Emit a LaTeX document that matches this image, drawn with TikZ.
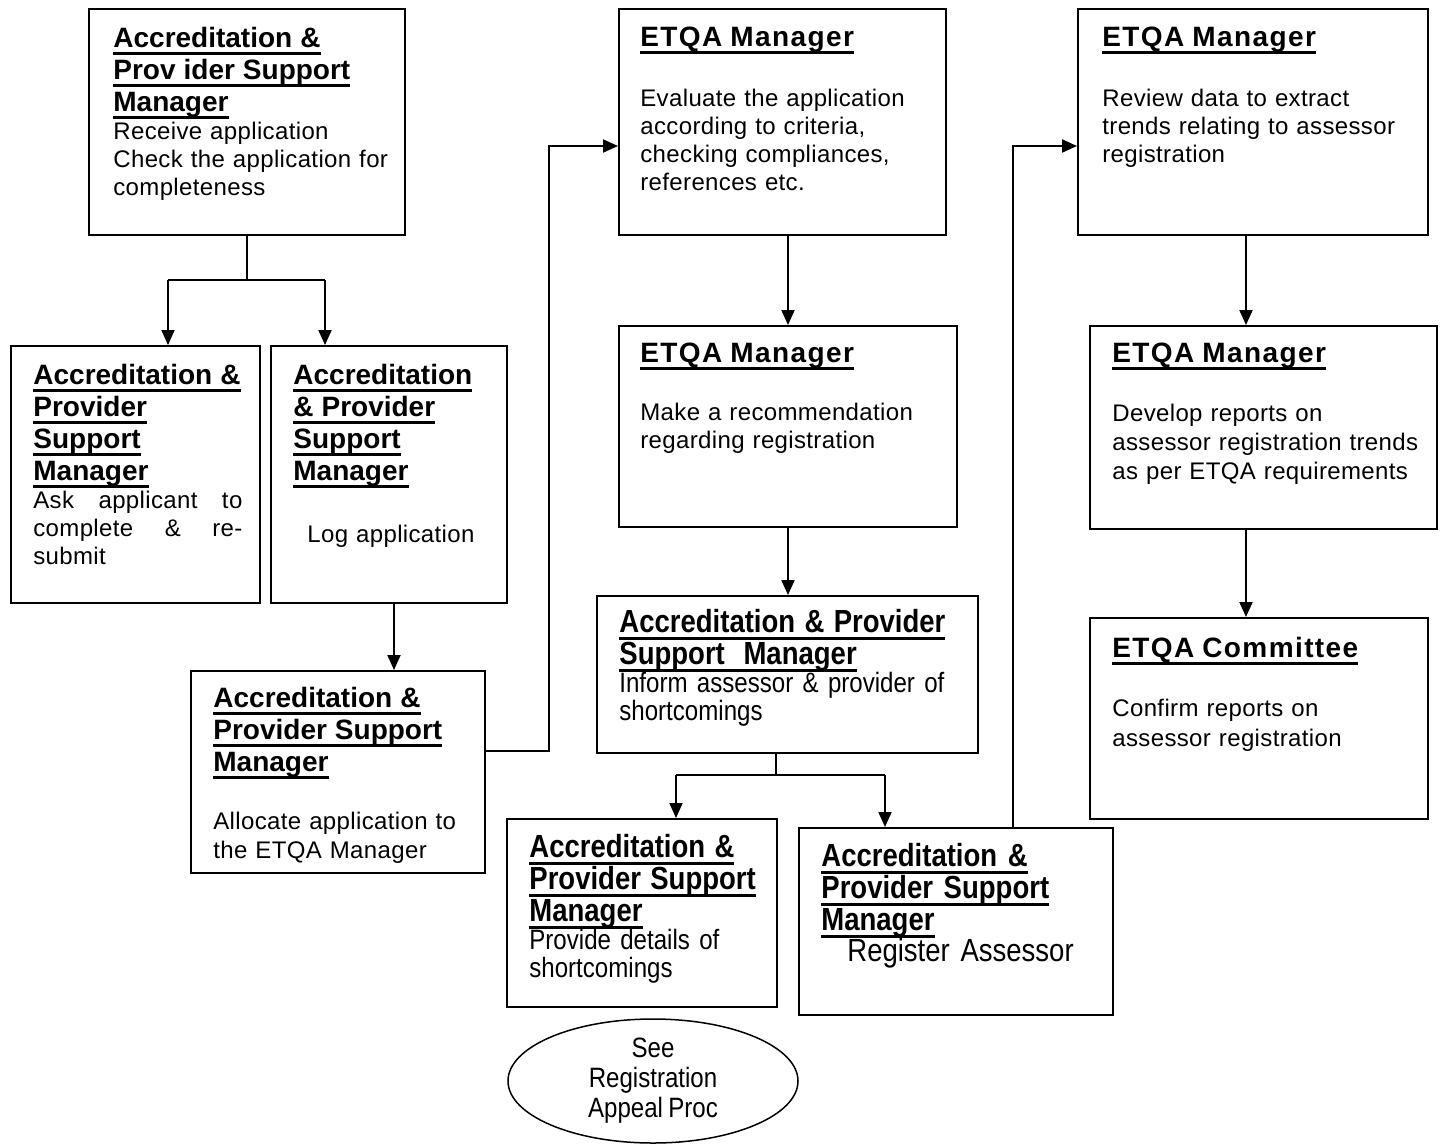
\documentclass[tikz,border=0pt]{standalone}
\usepackage{fontspec}
\setmainfont{Liberation Sans}[LetterSpace=1.5]
\newfontfamily\plainfont{Liberation Sans}
\newfontfamily\spacedfont[LetterSpace=5]{Liberation Sans}
\newfontfamily\narrowfont[FakeStretch=0.86,WordSpace=0.8]{Liberation Sans}
\usetikzlibrary{arrows.meta,shapes.geometric}

\newcommand{\hu}[1]{\leavevmode\setbox0\hbox{#1}\rlap{\rule[-3.6pt]{\wd0}{1.5pt}}\box0}
\newcommand{\hdf}{\plainfont\bfseries\fontsize{14}{16}\selectfont}
\newcommand{\edf}{\spacedfont\bfseries\fontsize{14}{16}\selectfont}
\newcommand{\nhf}{\narrowfont\bfseries\fontsize{16}{16}\selectfont}
\newcommand{\nbf}{\narrowfont\fontsize{14}{14}\selectfont}

\tikzset{
  frame/.style={draw, line width=1pt, anchor=north west, inner sep=0pt},
  txt/.style={anchor=north west, inner sep=0pt, align=left, font=\fontsize{12}{14}\selectfont},
  flow/.style={line width=1pt, -{Triangle[length=7.5pt,width=6.5pt]}},
  link/.style={line width=1pt}
}

\begin{document}
\begin{tikzpicture}[x=0.5pt,y=-0.5pt]
  \useasboundingbox (0,0) rectangle (1442,1147);
  \coordinate (s1) at (168,280);
  \coordinate (s2) at (325,280);
  \coordinate (c1) at (549,146);
  \coordinate (j2) at (776,775);
  \coordinate (s3) at (676,775);
  \coordinate (s4) at (885,775);
  \coordinate (c2) at (1013,146);
  \coordinate (c3) at (1246,0);
% left column
\node[frame, minimum width=158pt, minimum height=113pt] (recv) at (88,8) {};
\node[txt, text width=140pt] (recv-t) at (113,27)
  {{\hdf\hu{Accreditation \&}\\\hu{Prov ider Support}\\\hu{Manager}\par}
   Receive application\\Check the application for\\completeness};
\node[frame, minimum width=124.5pt, minimum height=128.5pt] (ask) at (10,345) {};
\node[txt, text width=104.5pt] (ask-t) at (33,364)
  {{\hdf\hu{Accreditation \&}\\\hu{Provider}\\\hu{Support}\\\hu{Manager}\par}
   Ask\hfill applicant\hfill to\\complete\hfill\&\hfill re-\\submit};
\node[frame, minimum width=118pt, minimum height=128.5pt] (log) at (270,345) {};
\node[txt, text width=100pt] (log-t) at (293,364)
  {{\hdf\hu{Accreditation}\\\hu{\& Provider}\\\hu{Support}\\\hu{Manager}\par}
   \vspace{17pt}\hspace*{7pt}Log application};
\node[frame, minimum width=147pt, minimum height=101pt] (alloc) at (190,670) {};
\node[txt, text width=130pt, font=\fontsize{12}{14.5}\selectfont] (alloc-t) at (213,687)
  {{\hdf\hu{Accreditation \&}\\\hu{Provider Support}\\\hu{Manager}\par}
   \vspace{14.5pt}Allocate application to\\the ETQA Manager};
% middle column
\node[frame, minimum width=163.5pt, minimum height=113pt] (eval) at (618,8) {};
\node[txt, text width=147pt] (eval-t) at (640,27)
  {{\edf\hu{ETQA Manager}\par}
   \vspace{16pt}Evaluate the application\\according to criteria,\\checking compliances,\\references etc.};
\node[frame, minimum width=169pt, minimum height=100.5pt] (recom) at (618,325) {};
\node[txt, text width=153pt] (recom-t) at (640,343)
  {{\edf\hu{ETQA Manager}\par}
   \vspace{15pt}Make a recommendation\\regarding registration};
\node[frame, minimum width=190.5pt, minimum height=78.5pt] (inform) at (596,595) {};
\node[txt, text width=174pt, font=\nbf] (inform-t) at (619,609)
  {{\nhf\hu{Accreditation \& Provider}\\\hu{Support\ \ Manager}\par}
   Inform assessor \& provider of\\shortcomings};
\node[frame, minimum width=135pt, minimum height=94pt] (details) at (506,818) {};
\node[txt, text width=119pt, font=\nbf] (details-t) at (529,834)
  {{\nhf\hu{Accreditation \&}\\\hu{Provider Support}\\\hu{Manager}\par}
   Provide details of\\shortcomings};
\node[frame, minimum width=157pt, minimum height=93.5pt] (regist) at (798,827) {};
\node[txt, text width=140pt, font=\narrowfont\fontsize{16}{15.5}\selectfont] (regist-t) at (821,843)
  {{\nhf\hu{Accreditation \&}\\\hu{Provider Support}\\\hu{Manager}\par}
   \hspace*{13pt}Register Assessor};
\node[draw, line width=0.75pt, ellipse, minimum width=145pt, minimum height=62pt,
  inner sep=0pt, align=center, font=\narrowfont\fontsize{14}{15}\selectfont] (appeal) at (653,1081)
  {See\\Registration\\Appeal Proc};
% right column
\node[frame, minimum width=175pt, minimum height=113pt] (review) at (1077,8) {};
\node[txt, text width=157pt] (review-t) at (1102,27)
  {{\edf\hu{ETQA Manager}\par}
   \vspace{16pt}Review data to extract\\trends relating to assessor\\registration};
\node[frame, minimum width=173.5pt, minimum height=101.5pt] (develop) at (1089,325) {};
\node[txt, text width=158pt, font=\fontsize{12}{14.5}\selectfont] (develop-t) at (1112,343)
  {{\edf\hu{ETQA Manager}\par}
   \vspace{15pt}Develop reports on\\assessor registration trends\\as per ETQA requirements};
\node[frame, minimum width=169pt, minimum height=100.5pt] (confirm) at (1089,617) {};
\node[txt, text width=152pt, font=\fontsize{12}{15}\selectfont] (confirm-t) at (1112,637)
  {{\edf\hu{ETQA Committee}\par}
   \vspace{14.5pt}Confirm reports on\\assessor registration};
% connectors
\draw[link] (recv.south) |- (s1);
\draw[link] (s1) -- (s2);
\draw[flow] (s1) -- (s1 |- ask.north);
\draw[flow] (s2) -- (s2 |- log.north);
\draw[flow] ([xshift=2.5pt]log.south) -- ([xshift=2.5pt]log.south |- alloc.north);
\draw[flow] ([yshift=10.5pt]alloc.east) -| (c1) -- (c1 -| eval.west);
\draw[flow] (eval.south -| recom.north) -- (recom.north);
\draw[flow] (recom.south) -- (recom.south |- inform.north);
\draw[link] (j2 |- inform.south) -- (j2);
\draw[link] (s3) -- (s4);
\draw[flow] (s3) -- (s3 |- details.north);
\draw[flow] (s4) -- (s4 |- regist.north);
\draw[flow] (c2 |- regist.north) -- (c2) -- (c2 -| review.west);
\draw[flow] (c3 |- review.south) -- (c3 |- develop.north);
\draw[flow] (c3 |- develop.south) -- (c3 |- confirm.north);
\end{tikzpicture}
\end{document}
